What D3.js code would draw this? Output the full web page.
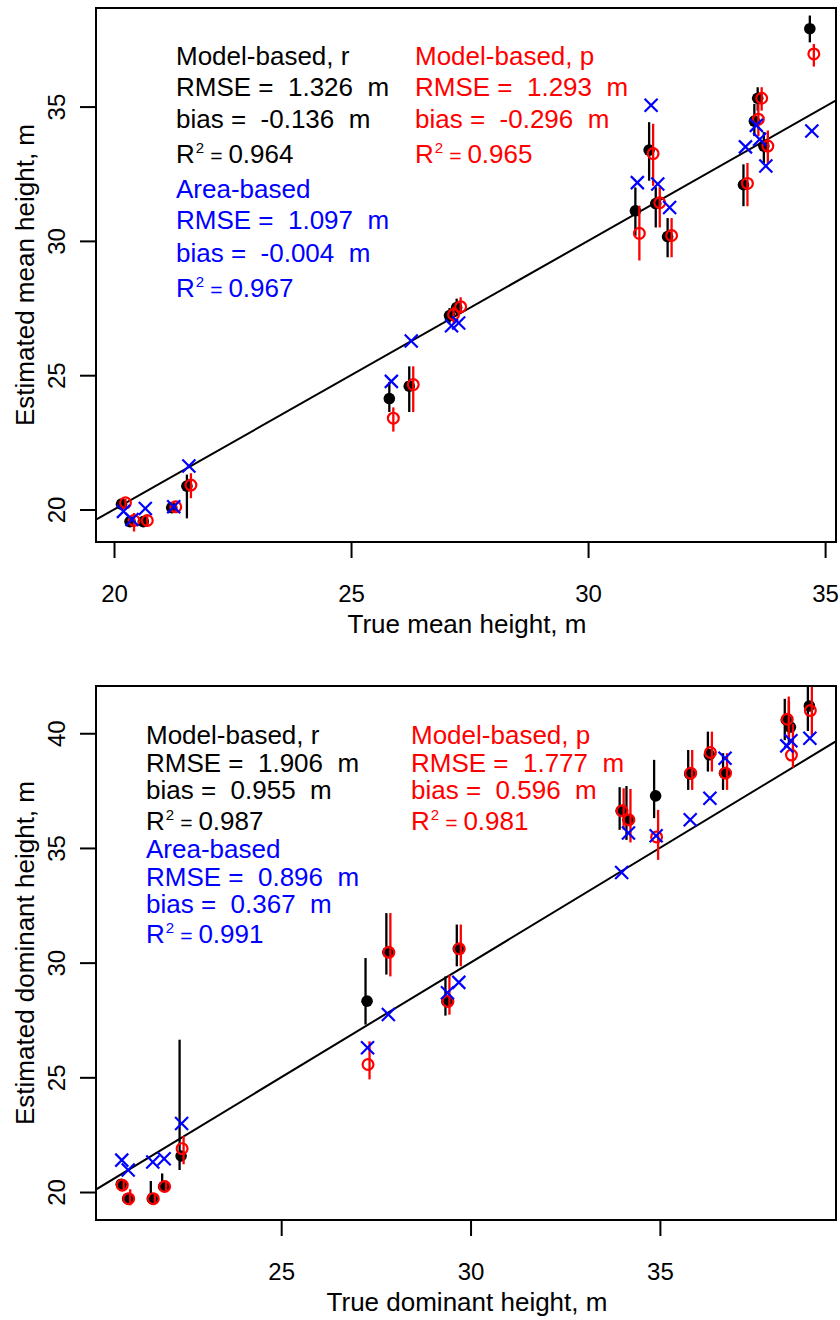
<!DOCTYPE html>
<html>
<head>
<meta charset="utf-8">
<script src="https://cdn.jsdelivr.net/npm/d3@7"></script>
<style>
  body { margin: 0; background: #fff; }
  svg { display: block; }
  text { font-family: "Liberation Sans", Arial, Helvetica, sans-serif; }
</style>
</head>
<body>
<svg id="chart" width="840" height="1320"></svg>
<script>
// ---- Mean height (m): true plot value vs. estimates ----
const meanTrue   = [20.20, 20.38, 20.66, 21.26, 21.58, 25.85, 26.27, 27.12, 27.27, 31.04, 31.33, 31.47, 31.72, 33.32, 33.55, 33.62, 33.75, 34.72];
const meanModelR = [20.20, 19.55, 19.55, 20.07, 20.87, 24.13, 24.59, 27.22, 27.52, 31.12, 33.38, 31.39, 30.16, 32.09, 34.46, 35.31, 33.53, 37.90];
const meanModelRLo = [20.05, 19.40, 19.45, 19.95, 19.67, 23.63, 23.63, 26.95, 27.25, 30.19, 32.24, 30.50, 29.39, 31.29, 33.90, 34.85, 32.90, 37.39];
const meanModelRHi = [20.35, 19.70, 19.65, 20.20, 21.30, 24.75, 25.33, 27.50, 27.85, 31.99, 34.42, 32.00, 30.85, 32.85, 35.10, 35.72, 34.05, 38.39];
const meanModelP = [20.25, 19.59, 19.59, 20.10, 20.91, 23.40, 24.65, 27.26, 27.55, 30.28, 33.25, 31.42, 30.20, 32.14, 34.53, 35.31, 33.53, 36.96];
const meanModelPLo = [20.10, 19.18, 19.36, 19.95, 20.42, 22.90, 23.63, 26.95, 27.30, 29.27, 32.05, 30.50, 29.39, 31.29, 33.90, 34.85, 32.88, 36.49];
const meanModelPHi = [20.40, 19.87, 19.79, 20.25, 21.35, 23.80, 25.33, 27.55, 27.90, 31.31, 34.36, 32.00, 30.85, 32.90, 35.10, 35.72, 34.11, 37.33];
const meanArea   = [19.93, 19.63, 20.04, 20.10, 21.62, 24.77, 26.27, 26.84, 26.94, 32.17, 35.05, 32.12, 31.24, 33.50, 34.30, 33.78, 32.79, 34.09];

// ---- Dominant height (m): true plot value vs. estimates ----
const domTrue   = [20.79, 20.96, 21.61, 21.91, 22.37, 27.28, 27.83, 29.39, 29.69, 33.99, 34.17, 34.90, 35.80, 36.32, 36.72, 38.35, 38.46, 38.96];
const domModelR = [20.34, 19.71, 19.71, 20.24, 21.57, 28.32, 30.45, 28.31, 30.60, 36.62, 36.23, 37.27, 38.23, 39.06, 38.26, 40.58, 40.27, 41.19];
const domModelRLo = [20.15, 19.60, 19.50, 20.05, 20.96, 27.30, 29.48, 27.69, 29.84, 35.79, 35.35, 36.30, 37.53, 38.33, 37.53, 39.70, 39.50, 40.10];
const domModelRHi = [20.55, 19.85, 20.48, 20.81, 26.64, 30.20, 32.16, 29.40, 31.66, 37.65, 37.70, 38.84, 39.27, 40.07, 39.13, 41.50, 41.40, 42.30];
const domModelP = [20.30, 19.71, 19.71, 20.24, 21.89, 25.56, 30.45, 28.31, 30.60, 36.62, 36.23, 35.48, 38.26, 39.16, 38.26, 40.61, 39.05, 40.99];
const domModelPLo = [20.10, 19.42, 19.50, 20.05, 21.21, 24.91, 29.40, 27.73, 29.84, 35.80, 35.24, 34.48, 37.53, 38.33, 37.53, 39.70, 38.50, 39.90];
const domModelPHi = [20.50, 20.12, 19.95, 20.50, 22.44, 26.57, 32.16, 29.45, 31.66, 37.60, 37.57, 36.66, 39.27, 40.07, 39.13, 41.60, 40.40, 42.30];
const domArea   = [21.39, 20.96, 21.31, 21.45, 22.99, 26.29, 27.74, 28.69, 29.14, 33.93, 35.65, 35.53, 36.23, 37.17, 38.91, 39.45, 39.67, 39.78];

// ---- Axis ticks ----
const meanXTicks = [20, 25, 30, 35];
const meanYTicks = [20, 25, 30, 35];
const domXTicks  = [25, 30, 35];
const domYTicks  = [20, 25, 30, 35, 40];

// ---- Fit statistics printed inside each panel ----
const meanStatsR = ["Model-based, r", "RMSE =  1.326  m", "bias =  -0.136  m", "0.964"];
const meanStatsA = ["Area-based", "RMSE =  1.097  m", "bias =  -0.004  m", "0.967"];
const meanStatsP = ["Model-based, p", "RMSE =  1.293  m", "bias =  -0.296  m", "0.965"];
const domStatsR  = ["Model-based, r", "RMSE =  1.906  m", "bias =  0.955  m", "0.987"];
const domStatsA  = ["Area-based", "RMSE =  0.896  m", "bias =  0.367  m", "0.991"];
const domStatsP  = ["Model-based, p", "RMSE =  1.777  m", "bias =  0.596  m", "0.981"];

const svg = d3.select("#chart");
const COL_R = "#000000", COL_P = "#ff0000", COL_A = "#0000ff";
const FONT = "'Liberation Sans', Arial, sans-serif";

function makeRows(tr, r, rlo, rhi, p, plo, phi, a) {
  return tr.map((t, i) => ({ t, r: r[i], rlo: rlo[i], rhi: rhi[i], p: p[i], plo: plo[i], phi: phi[i], a: a[i] }));
}

function drawPanel(cfg) {
  const { left, right, top, bottom } = cfg.box;
  const x = d3.scaleLinear().domain(cfg.xDomain).range([left, right]);
  const y = d3.scaleLinear().domain(cfg.yDomain).range([bottom, top]);
  const g = svg.append("g");

  const clipId = "clip-" + cfg.id;
  svg.append("clipPath").attr("id", clipId)
    .append("rect").attr("x", left).attr("y", top)
    .attr("width", right - left).attr("height", bottom - top);

  const plot = g.append("g").attr("clip-path", `url(#${clipId})`);

  // 1:1 reference line
  const lo = Math.min(cfg.xDomain[0], cfg.yDomain[0]) - 1;
  const hi = Math.max(cfg.xDomain[1], cfg.yDomain[1]) + 1;
  plot.append("line")
    .attr("x1", x(lo)).attr("y1", y(lo)).attr("x2", x(hi)).attr("y2", y(hi))
    .attr("stroke", "#000").attr("stroke-width", 2);

  const rows = cfg.rows;

  // Model-based, r: error bars and filled dots
  plot.selectAll(".barR").data(rows).join("line")
    .attr("x1", d => x(d.t) - cfg.barDodge).attr("x2", d => x(d.t) - cfg.barDodge)
    .attr("y1", d => y(d.rlo)).attr("y2", d => y(d.rhi))
    .attr("stroke", COL_R).attr("stroke-width", 2.3);
  plot.selectAll(".dotR").data(rows).join("circle")
    .attr("cx", d => x(d.t) - cfg.dotDodge).attr("cy", d => y(d.r))
    .attr("r", 5.8).attr("fill", COL_R);

  // Model-based, p: error bars and open circles
  plot.selectAll(".barP").data(rows).join("line")
    .attr("x1", d => x(d.t) + cfg.barDodge).attr("x2", d => x(d.t) + cfg.barDodge)
    .attr("y1", d => y(d.plo)).attr("y2", d => y(d.phi))
    .attr("stroke", COL_P).attr("stroke-width", 2.3);
  plot.selectAll(".dotP").data(rows).join("circle")
    .attr("cx", d => x(d.t) + cfg.dotDodge).attr("cy", d => y(d.p))
    .attr("r", 5.4).attr("fill", "none").attr("stroke", COL_P).attr("stroke-width", 2.2);

  // Area-based: crosses
  const s = 6.5;
  const cross = plot.selectAll(".crossA").data(rows).join("g")
    .attr("transform", d => `translate(${x(d.t)},${y(d.a)})`);
  cross.append("line").attr("x1", -s).attr("y1", -s).attr("x2", s).attr("y2", s)
    .attr("stroke", COL_A).attr("stroke-width", 2.2);
  cross.append("line").attr("x1", -s).attr("y1", s).attr("x2", s).attr("y2", -s)
    .attr("stroke", COL_A).attr("stroke-width", 2.2);

  // Frame
  g.append("rect").attr("x", left).attr("y", top)
    .attr("width", right - left).attr("height", bottom - top)
    .attr("fill", "none").attr("stroke", "#000").attr("stroke-width", 2);

  // X axis
  const xAxis = g.append("g").attr("transform", `translate(0,${bottom})`)
    .call(d3.axisBottom(x).tickValues(cfg.xTicks).tickSize(16).tickSizeOuter(0).tickFormat(d3.format("d")));
  xAxis.select(".domain").remove();
  xAxis.selectAll(".tick line").attr("stroke", "#000").attr("stroke-width", 2);
  xAxis.selectAll(".tick text").attr("y", 60).attr("dy", 0)
    .attr("font-size", 24).attr("fill", "#000").style("font-family", FONT);

  // Y axis (labels parallel to the axis)
  const yAxis = g.append("g").attr("transform", `translate(${left},0)`)
    .call(d3.axisLeft(y).tickValues(cfg.yTicks).tickSize(16).tickSizeOuter(0).tickFormat(d3.format("d")));
  yAxis.select(".domain").remove();
  yAxis.selectAll(".tick line").attr("stroke", "#000").attr("stroke-width", 2);
  yAxis.selectAll(".tick text")
    .attr("x", null).attr("dy", null)
    .attr("transform", "translate(-31,0) rotate(-90)")
    .attr("text-anchor", "middle")
    .attr("font-size", 24).attr("fill", "#000").style("font-family", FONT);

  // Axis titles
  g.append("text").attr("x", (left + right) / 2 + 1).attr("y", bottom + 91)
    .attr("text-anchor", "middle").attr("font-size", 26).text(cfg.xTitle);
  g.append("text")
    .attr("transform", `translate(34,${(top + bottom) / 2}) rotate(-90)`)
    .attr("text-anchor", "middle").attr("font-size", 26).text(cfg.yTitle);

  // Statistics blocks
  function statBlock(lines, color, xPos, baselines) {
    lines.forEach((txt, i) => {
      const t = g.append("text").attr("x", xPos).attr("y", baselines[i])
        .attr("font-size", 26).attr("fill", color).style("white-space", "pre");
      if (i < 3) {
        t.text(txt);
      } else {
        t.append("tspan").text("R");
        t.append("tspan").attr("font-size", 15).attr("dx", 1).attr("dy", -10).text("2");
        t.append("tspan").attr("font-size", 21).attr("dx", 6).attr("dy", 10).text("=");
        t.append("tspan").attr("dx", 6).text(txt);
      }
    });
  }
  const b = cfg.baselines;
  statBlock(cfg.statsR, COL_R, cfg.textX1, b.slice(0, 4));
  statBlock(cfg.statsA, COL_A, cfg.textX1, b.slice(4, 8));
  statBlock(cfg.statsP, COL_P, cfg.textX2, b.slice(0, 4));
}

drawPanel({
  id: "mean",
  box: { left: 96, right: 836, top: 8, bottom: 542 },
  xDomain: [19.62, 35.23], yDomain: [18.79, 38.67],
  xTicks: meanXTicks, yTicks: meanYTicks,
  xTitle: "True mean height, m", yTitle: "Estimated mean height, m",
  rows: makeRows(meanTrue, meanModelR, meanModelRLo, meanModelRHi, meanModelP, meanModelPLo, meanModelPHi, meanArea),
  dotDodge: 2, barDodge: 2,
  statsR: meanStatsR, statsA: meanStatsA, statsP: meanStatsP,
  textX1: 176, textX2: 415,
  baselines: [65, 96, 128, 163, 198, 229, 262, 297]
});

drawPanel({
  id: "dom",
  box: { left: 96, right: 836, top: 686, bottom: 1220 },
  xDomain: [20.11, 39.65], yDomain: [18.78, 42.06],
  xTicks: domXTicks, yTicks: domYTicks,
  xTitle: "True dominant height, m", yTitle: "Estimated dominant height, m",
  rows: makeRows(domTrue, domModelR, domModelRLo, domModelRHi, domModelP, domModelPLo, domModelPHi, domArea),
  dotDodge: 0.5, barDodge: 2,
  statsR: domStatsR, statsA: domStatsA, statsP: domStatsP,
  textX1: 146, textX2: 411,
  baselines: [744, 772, 799, 830, 858, 886, 913, 943]
});
</script>
</body>
</html>
